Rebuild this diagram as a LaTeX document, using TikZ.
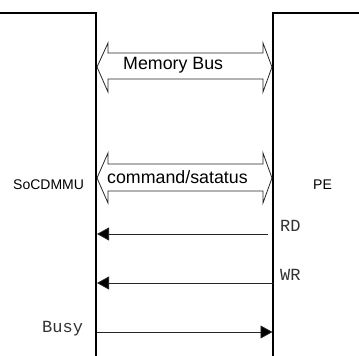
\documentclass[tikz,border=0pt]{standalone}
\usepackage{fontspec}
\setmainfont{Liberation Sans}
\newfontfamily\monofam{Liberation Mono}
\usetikzlibrary{arrows.meta}
\begin{document}
\begin{tikzpicture}[x=1pt,y=-1pt,
  wall/.style={line width=2pt},
  busarrow/.style={line width=0.8pt, draw=black!85, fill=white, line join=miter},
  sig/.style={line width=0.8pt, draw=black!85, -{Triangle[length=12pt,width=13pt,fill=black]}},
  buslbl/.style={inner sep=0pt, anchor=base west, font=\fontsize{17.8}{20}\selectfont},
  sidelbl/.style={inner sep=0pt, anchor=base west, font=\fontsize{14}{16}\selectfont},
  monolbl/.style={inner sep=0pt, anchor=base west, text=black!80, font=\monofam\fontsize{17}{19}\selectfont}
]
\useasboundingbox (0,0) rectangle (359,356);
\fill[white] (0,0) rectangle (359,356);
% walls
\draw[wall] (0,13) -- (96,13) -- (96,356);
\draw[wall] (359,13) -- (273,13) -- (273,356);
% Memory Bus double arrow
\draw[busarrow] (97,67) -- (108,43) -- (108,53) -- (263,53) -- (263,43) -- (272,67)
  -- (263,92) -- (263,79) -- (108,79) -- (108,92) -- cycle;
\node[buslbl] (mem) at (123,69) {Memory Bus};
% command/status double arrow
\draw[busarrow] (97,178) -- (108,153) -- (108,164) -- (263,164) -- (263,153) -- (272,178)
  -- (263,203) -- (263,191) -- (108,191) -- (108,203) -- cycle;
\node[buslbl] (cmd) at (107,183) {command/satatus};
% side labels
\node[sidelbl] (soc) at (13,189) {SoCDMMU};
\node[sidelbl] (pe) at (313,189) {PE};
% signals
\coordinate (rdR) at (268,234);
\coordinate (rdL) at (97,234);
\coordinate (wrR) at (273,283);
\coordinate (wrL) at (97,283);
\coordinate (bsL) at (97,332);
\coordinate (bsR) at (272.5,332);
\draw[sig] (rdR) -- (rdL);
\draw[sig] (wrR) -- (wrL);
\draw[sig] (bsL) -- (bsR);
\node[monolbl] (rd) at (280,231.5) {RD};
\node[monolbl] (wr) at (280,280.5) {WR};
\node[monolbl] (busy) at (42,332.5) {Busy};
\end{tikzpicture}
\end{document}
